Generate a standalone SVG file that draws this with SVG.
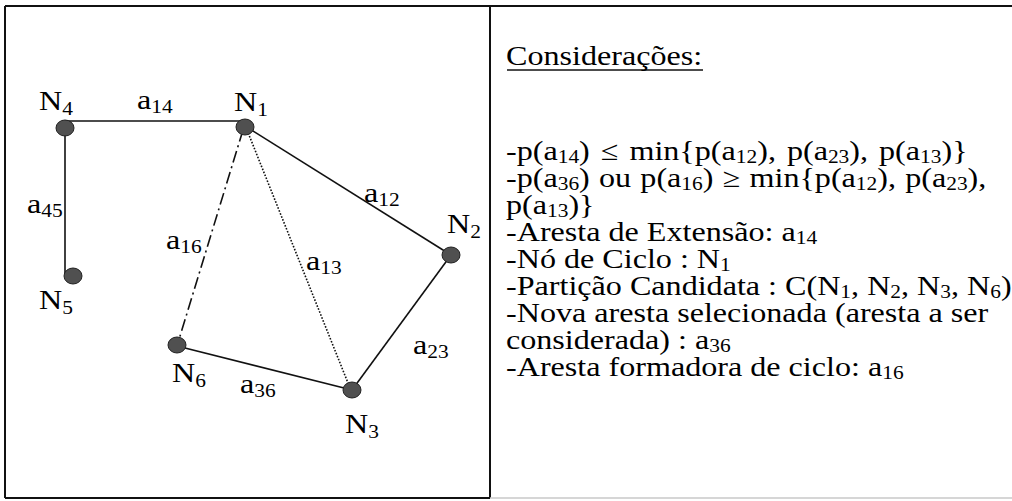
<svg xmlns="http://www.w3.org/2000/svg" width="1012" height="501" viewBox="0 0 1012 501">
<style>
text { font-family: "Liberation Serif", "Times New Roman", serif; font-size: 27px; fill: #000; }
.sub { font-size: 18px; }
.edge { stroke: #111; stroke-width: 1.6; fill: none; }
.dot { fill: #505050; stroke: #222; stroke-width: 1; }
.frame { stroke: #111; stroke-width: 2; fill: none; }
</style>
<rect width="1012" height="501" fill="#fff"/>
<g id="frame">
  <line class="frame" x1="5" y1="6" x2="1012" y2="6"/>
  <line class="frame" x1="5" y1="6" x2="5" y2="498"/>
  <line class="frame" x1="490" y1="6" x2="490" y2="498"/>
  <line class="frame" x1="5" y1="498" x2="490" y2="498"/>
  <line x1="490" y1="498" x2="1012" y2="498" stroke="#c8c8c8" stroke-width="1.5"/>
</g>
<g id="connectors">
  <line class="edge" x1="65" y1="121" x2="245" y2="121"/>
  <line class="edge" x1="65" y1="127" x2="65" y2="274"/>
  <line class="edge" x1="245" y1="126" x2="451" y2="255"/>
  <line class="edge" x1="451" y1="255" x2="352" y2="390"/>
  <line class="edge" x1="177" y1="346" x2="352" y2="390"/>
  <line class="edge" x1="243" y1="130" x2="177" y2="346" stroke-dasharray="12 4 2 4"/>
  <line class="edge" x1="247" y1="130" x2="350" y2="388" stroke-dasharray="1.6 1.6" stroke-width="1.4"/>
</g>
<g id="N4"><ellipse class="dot" cx="65" cy="128" rx="9" ry="8"/>
  <text transform="translate(39,110) scale(1.19,1)">N<tspan class="sub" dy="5">4</tspan></text></g>
<g id="N1"><ellipse class="dot" cx="245" cy="127" rx="9" ry="8"/>
  <text transform="translate(234,111) scale(1.19,1)">N<tspan class="sub" dy="5">1</tspan></text></g>
<g id="N2"><ellipse class="dot" cx="451" cy="255" rx="9" ry="8"/>
  <text transform="translate(447,233) scale(1.19,1)">N<tspan class="sub" dy="5">2</tspan></text></g>
<g id="N5"><ellipse class="dot" cx="73" cy="276" rx="9" ry="8"/>
  <text transform="translate(39,309) scale(1.19,1)">N<tspan class="sub" dy="5">5</tspan></text></g>
<g id="N6"><ellipse class="dot" cx="177" cy="345" rx="9" ry="8"/>
  <text transform="translate(172,382) scale(1.19,1)">N<tspan class="sub" dy="5">6</tspan></text></g>
<g id="N3"><ellipse class="dot" cx="352" cy="390" rx="9" ry="8"/>
  <text transform="translate(345,433) scale(1.19,1)">N<tspan class="sub" dy="5">3</tspan></text></g>
<g id="edge-labels">
  <text transform="translate(137,109) scale(1.19,1)">a<tspan class="sub" dy="4">14</tspan></text>
  <text transform="translate(364,202) scale(1.19,1)">a<tspan class="sub" dy="4">12</tspan></text>
  <text transform="translate(27,213) scale(1.19,1)">a<tspan class="sub" dy="4">45</tspan></text>
  <text transform="translate(166,249) scale(1.19,1)">a<tspan class="sub" dy="4">16</tspan></text>
  <text transform="translate(306,270) scale(1.19,1)">a<tspan class="sub" dy="4">13</tspan></text>
  <text transform="translate(240,393) scale(1.19,1)">a<tspan class="sub" dy="4">36</tspan></text>
  <text transform="translate(413,354) scale(1.19,1)">a<tspan class="sub" dy="4">23</tspan></text>
</g>
<g id="consideracoes">
  <line x1="507" y1="70" x2="703" y2="70" stroke="#111" stroke-width="1.5"/>
  <g transform="translate(506,0) scale(1.19,1)">
    <text x="0" y="65">Considerações:</text>
    <text x="0" y="160" word-spacing="2.5">-p(a<tspan class="sub" dy="3">14</tspan><tspan dy="-3">) ≤ min{p(a</tspan><tspan class="sub" dy="3">12</tspan><tspan dy="-3">), p(a</tspan><tspan class="sub" dy="3">23</tspan><tspan dy="-3">), p(a</tspan><tspan class="sub" dy="3">13</tspan><tspan dy="-3">)}</tspan></text>
    <text x="0" y="187" word-spacing="1">-p(a<tspan class="sub" dy="3">36</tspan><tspan dy="-3">) ou p(a</tspan><tspan class="sub" dy="3">16</tspan><tspan dy="-3">) ≥ min{p(a</tspan><tspan class="sub" dy="3">12</tspan><tspan dy="-3">), p(a</tspan><tspan class="sub" dy="3">23</tspan><tspan dy="-3">),</tspan></text>
    <text x="0" y="214">p(a<tspan class="sub" dy="3">13</tspan><tspan dy="-3">)}</tspan></text>
    <text x="0" y="241">-Aresta de Extensão: a<tspan class="sub" dy="3">14</tspan></text>
    <text x="0" y="268">-Nó de Ciclo : N<tspan class="sub" dy="3">1</tspan></text>
    <text x="0" y="295">-Partição Candidata : C(N<tspan class="sub" dy="3">1</tspan><tspan dy="-3">, N</tspan><tspan class="sub" dy="3">2</tspan><tspan dy="-3">, N</tspan><tspan class="sub" dy="3">3</tspan><tspan dy="-3">, N</tspan><tspan class="sub" dy="3">6</tspan><tspan dy="-3">)</tspan></text>
    <text x="0" y="322">-Nova aresta selecionada (aresta a ser</text>
    <text x="0" y="349">considerada) : a<tspan class="sub" dy="3">36</tspan></text>
    <text x="0" y="376">-Aresta formadora de ciclo: a<tspan class="sub" dy="3">16</tspan></text>
  </g>
</g>
</svg>
